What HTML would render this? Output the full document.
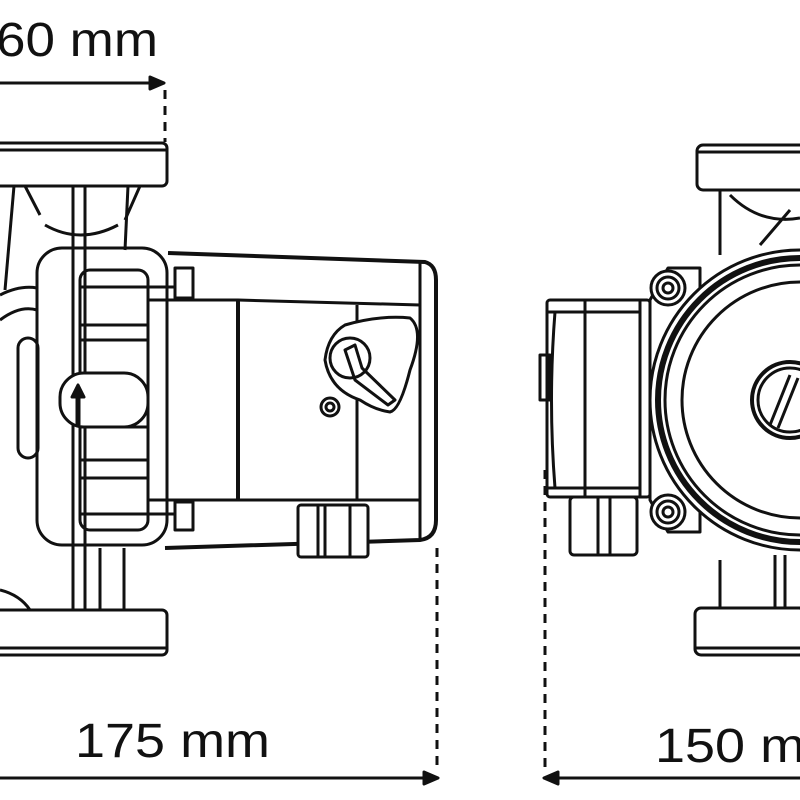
<!DOCTYPE html>
<html><head><style>body{margin:0;background:#fff}svg{display:block}</style></head><body>
<svg width="800" height="800" viewBox="0 0 800 800" xmlns="http://www.w3.org/2000/svg" fill="none" stroke="#111" stroke-width="3" stroke-linejoin="round">
<text x="-4" y="56" font-family="Liberation Sans, sans-serif" font-size="48" fill="#111" stroke="none" textLength="162" lengthAdjust="spacingAndGlyphs">60 mm</text>
<line x1="0" y1="83" x2="158" y2="83"/>
<path d="M150,77 L164,83 L150,89 Z" fill="#111"/>
<line x1="165" y1="90" x2="165" y2="142" stroke-dasharray="9,7"/>
<rect x="-5" y="143" width="172" height="43" rx="5"/>
<line x1="-5" y1="150" x2="167" y2="150"/>
<rect x="-5" y="610" width="172" height="45" rx="5"/>
<line x1="-5" y1="648" x2="167" y2="648"/>
<line x1="14" y1="186" x2="5" y2="290"/><line x1="128" y1="186" x2="125" y2="250"/>
<line x1="73" y1="186" x2="73" y2="610"/><line x1="85" y1="186" x2="85" y2="610"/>
<path d="M25,186 L40,215 M140,186 L125,220 M45,225 Q80,245 118,225"/>
<path d="M0,295 Q20,285 37,288 M0,320 Q20,305 37,310"/>
<rect x="18" y="338" width="20" height="120" rx="10"/>
<rect x="37" y="248" width="130" height="297" rx="25"/>
<rect x="80" y="270" width="68" height="260" rx="10"/>
<line x1="80" y1="287" x2="175" y2="287"/><line x1="80" y1="325" x2="148" y2="325"/>
<line x1="80" y1="340" x2="148" y2="340"/><line x1="80" y1="427" x2="148" y2="427"/>
<line x1="80" y1="460" x2="148" y2="460"/><line x1="80" y1="478" x2="148" y2="478"/>
<line x1="80" y1="514" x2="175" y2="514"/>
<rect x="60" y="373" width="88" height="54" rx="24" fill="#fff"/>
<path d="M78,425 V395" stroke-width="5"/><path d="M72,397 L78,385 L84,397 Z" fill="#111"/>
<rect x="175" y="268" width="18" height="30"/><rect x="175" y="502" width="18" height="28"/>
<path d="M168,253 L425,262 Q436,265 436,280 V520 Q436,538 420,540 L165,548" stroke-width="4"/>
<line x1="420" y1="262" x2="420" y2="540"/>
<path d="M148,300 L238,300 L420,305 M148,500 L420,500"/>
<line x1="238" y1="300" x2="238" y2="500" stroke-width="4"/>
<line x1="357" y1="305" x2="357" y2="500"/>
<path d="M345,325 Q380,315 410,318 Q425,330 410,370 Q400,410 390,412 Q375,410 360,400 Q330,390 325,360 Q328,335 345,325 Z" fill="#fff"/>
<circle cx="350" cy="358" r="20"/>
<path d="M345,350 L355,345 L362,368 L395,400 L388,405 L355,380 Z"/>
<circle cx="330" cy="407" r="9"/><circle cx="330" cy="407" r="4"/>
<rect x="298" y="505" width="70" height="52" rx="3" fill="#fff"/>
<line x1="318" y1="505" x2="318" y2="557"/><line x1="325" y1="505" x2="325" y2="557"/><line x1="350" y1="505" x2="350" y2="557"/>
<path d="M0,590 Q20,595 30,610"/>
<line x1="100" y1="548" x2="100" y2="610"/><line x1="124" y1="548" x2="124" y2="610"/>
<line x1="437" y1="548" x2="437" y2="772" stroke-dasharray="9,7"/>
<line x1="0" y1="778" x2="430" y2="778"/>
<path d="M424,772 L438,778 L424,784 Z" fill="#111"/>
<text x="75" y="757" font-family="Liberation Sans, sans-serif" font-size="48" fill="#111" stroke="none" textLength="195" lengthAdjust="spacingAndGlyphs">175 mm</text>

<rect x="697" y="145" width="110" height="45" rx="6"/>
<line x1="697" y1="152" x2="807" y2="152"/>
<rect x="695" y="608" width="110" height="47" rx="6"/>
<line x1="695" y1="648" x2="805" y2="648"/>
<line x1="720" y1="190" x2="720" y2="255"/><path d="M730,195 Q760,225 800,218 M760,245 L790,210"/>
<line x1="775" y1="555" x2="775" y2="608"/><line x1="785" y1="555" x2="785" y2="608"/><line x1="720" y1="560" x2="720" y2="608"/>
<path d="M650,300 L668,268 L700,268 L700,532 L668,532 L650,500 Z" fill="#fff"/>
<circle cx="800" cy="400" r="150" fill="#fff"/>
<circle cx="800" cy="400" r="142" stroke-width="6"/>
<circle cx="800" cy="400" r="135"/>
<circle cx="800" cy="400" r="118"/>
<circle cx="790" cy="400" r="38" stroke-width="4"/><circle cx="790" cy="400" r="32"/>
<path d="M770,425 L790,375 M778,428 L798,378"/>
<circle cx="668" cy="288" r="17" fill="#fff"/><circle cx="668" cy="288" r="11"/><circle cx="668" cy="288" r="5"/>
<circle cx="668" cy="512" r="17" fill="#fff"/><circle cx="668" cy="512" r="11"/><circle cx="668" cy="512" r="5"/>
<rect x="547" y="300" width="103" height="197" rx="3" fill="#fff"/>
<line x1="547" y1="312" x2="640" y2="312"/><line x1="547" y1="488" x2="640" y2="488"/>
<line x1="585" y1="300" x2="585" y2="497"/><line x1="640" y1="300" x2="640" y2="497"/>
<path d="M555,312 Q548,400 555,488"/>
<rect x="540" y="355" width="10" height="45"/>
<rect x="570" y="497" width="67" height="58" rx="4" fill="#fff"/>
<line x1="598" y1="497" x2="598" y2="555"/><line x1="610" y1="497" x2="610" y2="555"/>
<line x1="545" y1="470" x2="545" y2="772" stroke-dasharray="9,7"/>
<line x1="552" y1="778" x2="800" y2="778"/>
<path d="M558,772 L544,778 L558,784 Z" fill="#111"/>
<text x="655" y="762" font-family="Liberation Sans, sans-serif" font-size="48" fill="#111" stroke="none" textLength="195" lengthAdjust="spacingAndGlyphs">150 mm</text>
</svg>
</body></html>
